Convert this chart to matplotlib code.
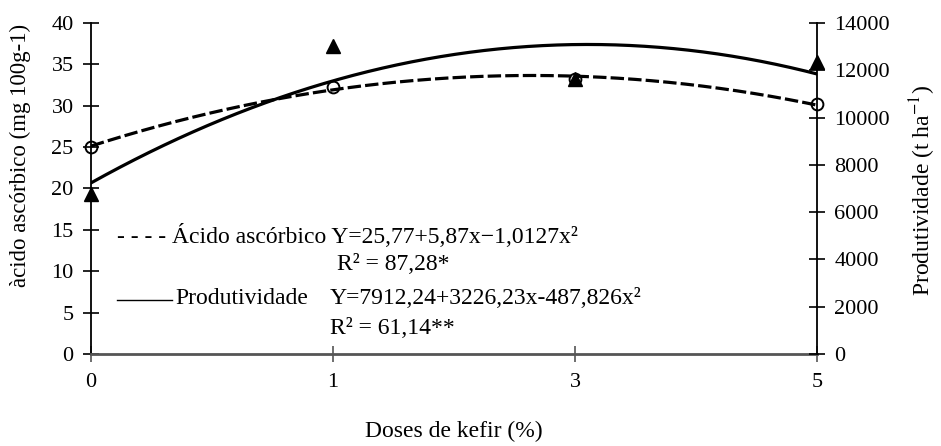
import numpy as np
import matplotlib
matplotlib.use("Agg")
import matplotlib.pyplot as plt
from matplotlib.lines import Line2D

plt.rcParams['font.family'] = ['Liberation Serif', 'DejaVu Serif']
plt.rcParams['mathtext.fontset'] = 'stix'

# dados
doses = ['0', '1', '3', '5']
acido = [25.0, 32.3, 33.2, 30.2]           # mg 100g-1 (círculos)
produtividade = [6750, 13010, 11630, 12330]  # t ha-1 (triângulos)

W, H = 941, 446
fig = plt.figure(figsize=(W / 100, H / 100), dpi=100)

# área do gráfico em pixels
left, right, top, bottom = 91, 817, 23, 354
ax = fig.add_axes([left / W, 1 - bottom / H, (right - left) / W, (bottom - top) / H])
ax2 = ax.twinx()

pos = np.arange(len(doses))

# linhas de tendência (polinômio de 2º grau, como no Excel)
xs = np.linspace(pos[0], pos[-1], 300)
c_ac = np.polyfit(pos, acido, 2)
c_pr = np.polyfit(pos, produtividade, 2)
ax.plot(xs, np.polyval(c_ac, xs), color='black', lw=2.3, dashes=(4.2, 1.3), zorder=3)
ax2.plot(xs, np.polyval(c_pr, xs), color='black', lw=2.3, zorder=3)

ax.plot(pos, acido, 'o', ms=8.5, mfc='none', mec='black', mew=1.4, clip_on=False, zorder=4)
ax2.plot(pos, produtividade, '^', ms=10.5, color='black', clip_on=False, zorder=4)

ax.set_xlim(0, 3)
ax.set_ylim(0, 40)
ax2.set_ylim(0, 14000)
ax.set_xticks(pos)
ax.set_xticklabels(doses)
ax.set_yticks(np.arange(0, 41, 5))
ax2.set_yticks(np.arange(0, 14001, 2000))

for a in (ax, ax2):
    a.spines['top'].set_visible(False)
    a.tick_params(direction='inout', length=11, width=1.2, labelsize=16, pad=7)
ax.tick_params(axis='x', pad=8, color='#555555')
ax.spines['left'].set_linewidth(1.3)
ax2.spines['right'].set_linewidth(1.3)
ax2.spines['left'].set_visible(False)
ax.spines['right'].set_visible(False)
ax.spines['bottom'].set_color('#555555')
ax.spines['bottom'].set_linewidth(2)
ax2.spines['bottom'].set_visible(False)

ax.set_xlabel('Doses de kefir (%)', fontsize=17, va='center')
ax.xaxis.set_label_coords(0.5, -0.235)
ax.set_ylabel('àcido ascórbico (mg 100g-1)', fontsize=16.5, va='center')
ax.yaxis.set_label_coords(-0.097, 0.60)
ax2.set_ylabel('Produtividade (t ha$^{-1}$)', fontsize=17, va='center', rotation=90)
ax2.yaxis.set_label_coords(1.146, 0.495)


def px(x, y):
    return x / W, 1 - y / H


fs = 17
fig.text(*px(117, 236), '- - - - Ácido ascórbico Y=25,77+5,87x\u22121,0127x²', fontsize=fs, va='center')
fig.text(*px(337, 264), 'R² = 87,28*', fontsize=fs, va='center')
fig.add_artist(Line2D([117 / W, 172 / W], [1 - 300 / H, 1 - 300 / H], color='black', lw=1.0))
fig.text(*px(175, 298), 'Produtividade', fontsize=fs, va='center')
fig.text(*px(330, 298), 'Y=7912,24+3226,23x-487,826x²', fontsize=fs, va='center')
fig.text(*px(330, 328), 'R² = 61,14**', fontsize=fs, va='center')

fig.savefig('out.png', dpi=100)
